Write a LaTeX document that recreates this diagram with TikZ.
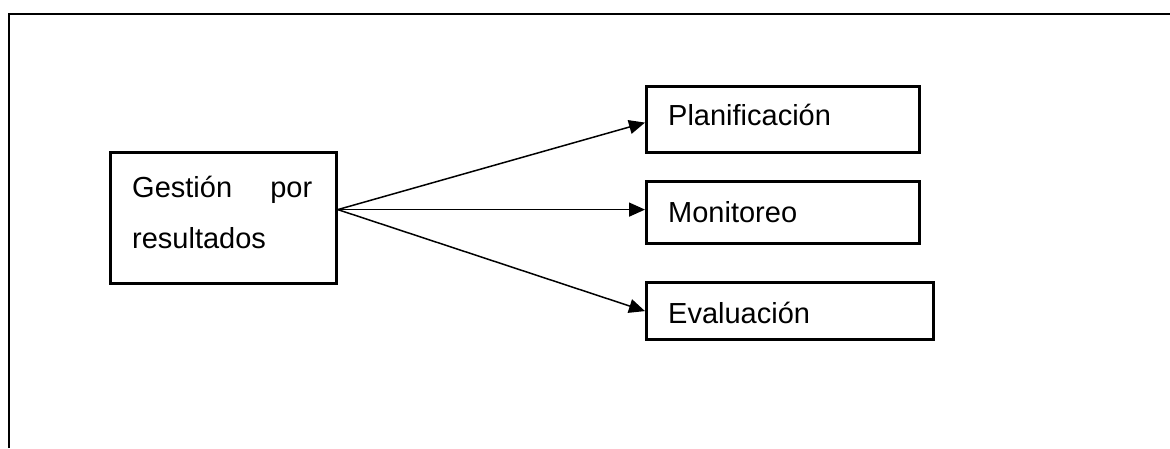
\documentclass[tikz,border=0pt]{standalone}
\usepackage{fontspec}
\setmainfont{Liberation Sans}
\usetikzlibrary{arrows.meta}
\begin{document}
\begin{tikzpicture}[x=1pt,y=1pt,
  box/.style={draw=black,line width=2.8pt,inner sep=0pt,anchor=south west},
  lbl/.style={anchor=base west,inner sep=0pt,font=\fontsize{29}{34}\selectfont},
  link/.style={line width=1.5pt,-{Triangle[length=16pt,width=14pt]}}]
\useasboundingbox (0,0) rectangle (1170,448);
% outer frame (only top and left edges fall inside the page)
\draw[line width=2.8pt] (9,0) -- (9,434) -- (1171,434);
% boxes
\node[box,minimum width=226pt,minimum height=131pt] (gest) at (109,163) {};
\node[box,minimum width=273pt,minimum height=66pt] (plan) at (645,294) {};
\node[box,minimum width=273pt,minimum height=62pt] (mon) at (645,203) {};
\node[box,minimum width=287pt,minimum height=57pt] (eval) at (645,107) {};
% texts
\node[lbl] (gestA) at (132,251) {\makebox[180pt][s]{Gestión\hfill por}};
\node[lbl] (gestB) at (132,200) {resultados};
\node[lbl] (planT) at (668,322) {Planificación};
\node[lbl] (monT) at (668,226) {Monitoreo};
\node[lbl] (evalT) at (668,125) {Evaluación};
% connectors
\coordinate (src) at ([yshift=8.5pt]gest.east);
\draw[link] (src) -- ([yshift=-3pt]plan.west);
\draw[link] (src) -- (src -| mon.west);
\draw[link] (src) -- (eval.west);
\end{tikzpicture}
\end{document}
